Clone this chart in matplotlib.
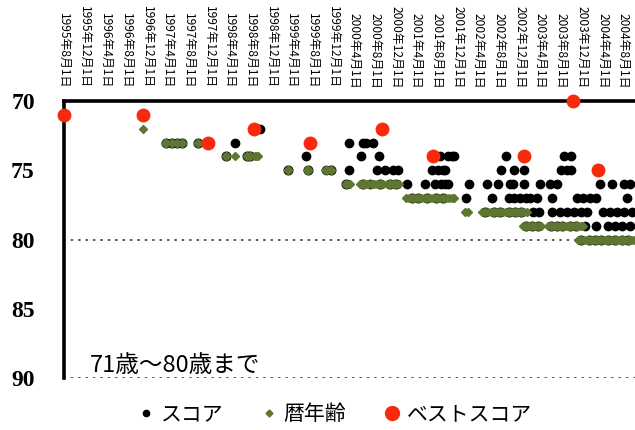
import numpy as np
import pandas as pd

import matplotlib
matplotlib.use("Agg")
import matplotlib.pyplot as plt
from matplotlib.lines import Line2D

plt.rcParams['font.family'] = ['Noto Sans CJK JP', 'DejaVu Sans']

# ベストスコア (red)
best_dates = ["1995-08-01", "1996-11-10", "1997-11-22", "1998-08-21", "1999-07-15",
              "2000-09-09", "2001-07-06", "2002-12-25", "2003-10-07", "2004-03-04"]
best_vals = [71, 71, 73, 72, 73, 72, 74, 74, 70, 75]

# 暦年齢 (green diamonds), one list per age row
age72 = ["1996-11-10"]
age73 = ["1997-03-16", "1997-03-25", "1997-04-24", "1997-05-24", "1997-06-25", "1997-09-28"]
age74 = ["1998-03-07", "1998-05-01", "1998-07-10", "1998-07-28", "1998-08-27", "1998-09-05",
         "1998-09-15"]
age75 = ["1999-03-10", "1999-07-01", "1999-07-06", "1999-10-12", "1999-10-22", "1999-11-16"]
age76 = ["2000-02-15", "2000-03-05", "2000-05-05", "2000-05-20", "2000-06-05", "2000-06-22",
         "2000-07-10", "2000-07-28", "2000-08-15", "2000-09-01", "2000-09-20", "2000-10-10",
         "2000-10-28", "2000-11-15", "2000-12-01", "2000-12-20"]
age77 = ["2001-02-01", "2001-02-18", "2001-03-08", "2001-03-25", "2001-04-12", "2001-04-30",
         "2001-05-18", "2001-06-05", "2001-06-22", "2001-07-10", "2001-07-28", "2001-08-15",
         "2001-09-02", "2001-09-20", "2001-10-08", "2001-10-25", "2001-11-08"]
age78 = ["2002-01-10", "2002-01-30", "2002-04-20", "2002-05-08", "2002-05-25", "2002-06-12",
         "2002-06-30", "2002-07-18", "2002-08-05", "2002-08-22", "2002-09-10", "2002-09-28",
         "2002-10-15", "2002-11-02", "2002-11-20", "2002-12-08", "2002-12-26", "2003-01-12"]
age79 = ["2002-12-20", "2003-01-05", "2003-01-22", "2003-02-08", "2003-02-25", "2003-03-15",
         "2003-04-01", "2003-05-15", "2003-06-01", "2003-06-18", "2003-07-05", "2003-07-22",
         "2003-08-08", "2003-08-25", "2003-09-10", "2003-09-22", "2003-10-08", "2003-10-25",
         "2003-11-10", "2003-11-25", "2003-12-05"]
age80 = ["2003-11-10", "2003-11-25", "2003-12-12", "2003-12-28", "2004-01-10", "2004-01-28",
         "2004-02-15", "2004-03-02", "2004-03-20", "2004-04-05", "2004-04-20", "2004-05-01",
         "2004-05-18", "2004-06-10", "2004-06-25", "2004-07-08", "2004-07-20", "2004-08-06",
         "2004-08-25", "2004-09-10", "2004-09-25", "2004-10-05"]

# スコア (black dots), one list per score row
score70 = ["2003-10-07"]
score71 = ["1995-08-01", "1996-11-10"]
score72 = ["1998-08-21", "1998-09-27", "2000-09-09"]
score73 = ["1997-03-25", "1997-04-24", "1997-05-24", "1997-06-25", "1997-09-28", "1997-11-22",
           "1998-05-01", "1999-07-15", "2000-03-03", "2000-05-24", "2000-06-12", "2000-07-21"]
score74 = ["1998-03-07", "1998-07-10", "1998-07-28", "1999-06-21", "2000-05-10", "2000-08-24",
           "2001-07-06", "2001-08-18", "2001-10-06", "2001-10-25", "2001-11-10", "2002-09-10",
           "2002-12-25", "2003-08-19", "2003-09-28"]
score75 = ["1999-03-10", "1999-07-06", "1999-10-18", "1999-11-16", "2000-03-03", "2000-08-12",
           "2000-10-01", "2000-11-18", "2000-12-13", "2001-07-01", "2001-08-09", "2001-09-07",
           "2001-09-18", "2002-08-12", "2002-10-28", "2002-12-25", "2003-07-28", "2003-09-01",
           "2003-09-28", "2004-03-04"]
score76 = ["2000-02-15", "2000-05-20", "2000-07-01", "2000-09-01", "2000-10-28", "2000-12-01",
           "2001-02-06", "2001-05-21", "2001-07-19", "2001-08-25", "2001-09-18", "2001-10-06",
           "2002-02-06", "2002-05-19", "2002-07-25", "2002-10-04", "2002-10-22", "2002-12-25",
           "2003-03-28", "2003-05-25", "2003-07-04", "2004-03-16", "2004-05-25", "2004-08-01",
           "2004-09-10"]
score77 = ["2001-03-08", "2001-04-12", "2001-06-05", "2001-07-28", "2001-09-02", "2002-01-16",
           "2002-06-18", "2002-09-28", "2002-10-28", "2002-12-01", "2003-01-05", "2003-01-28",
           "2003-03-10", "2003-06-06", "2003-11-01", "2003-12-05", "2004-01-16", "2004-02-22",
           "2004-08-20"]
score78 = ["2002-05-08", "2002-06-30", "2002-08-05", "2002-09-28", "2002-11-02", "2002-12-08",
           "2003-02-13", "2003-03-20", "2003-06-10", "2003-07-24", "2003-09-04", "2003-10-13",
           "2003-11-22", "2003-12-30", "2004-04-04", "2004-05-15", "2004-06-24", "2004-08-05",
           "2004-09-17"]
score79 = ["2003-01-05", "2003-02-08", "2003-03-15", "2003-06-01", "2003-07-05", "2003-08-08",
           "2003-09-22", "2003-10-25", "2003-12-19", "2004-02-19", "2004-05-04", "2004-06-12",
           "2004-07-25", "2004-09-10"]
score80 = ["2003-11-25", "2004-01-10", "2004-02-15", "2004-03-20", "2004-05-01", "2004-06-10",
           "2004-07-20", "2004-08-25"]

age_rows = {72: age72, 73: age73, 74: age74, 75: age75, 76: age76,
            77: age77, 78: age78, 79: age79, 80: age80}
score_rows = {70: score70, 71: score71, 72: score72, 73: score73, 74: score74,
              75: score75, 76: score76, 77: score77, 78: score78, 79: score79, 80: score80}

x_start = "1995-08-01"
x_end = "2004-10-07"
tick_dates = pd.date_range("1995-08-01", "2004-08-01", freq="4MS")

OLIVE = "#5f7533"
RED = "#f72a0c"

fig = plt.figure(figsize=(6.35, 4.30), dpi=100)
ax = fig.add_axes([64 / 635, 1 - 378 / 430, 1 - 64 / 635, 277 / 430])

# scores: black, olive-filled where the score equals the calendar age
for val, dates in score_rows.items():
    d = pd.to_datetime(dates)
    ages = age_rows.get(val, [])
    same = np.array([s in ages for s in dates])
    if (~same).any():
        ax.plot(d[~same], [val] * (~same).sum(), 'o', color='black', ms=6,
                clip_on=False, zorder=3)
    if same.any():
        ax.plot(d[same], [val] * same.sum(), 'o', mfc=OLIVE, mec='#1f2a10', mew=0.9,
                ms=6.4, clip_on=False, zorder=4)

for val, dates in age_rows.items():
    d = pd.to_datetime(dates)
    ax.plot(d, [val] * len(d), 'D', color=OLIVE, ms=4.2, clip_on=False, zorder=4)

ax.plot(pd.to_datetime(best_dates), best_vals, 'o', color=RED, ms=10, mew=0,
        clip_on=False, zorder=5)

# dotted reference lines
for yv in [80, 90]:
    ax.axhline(yv, color='#444444', lw=1.3, linestyle=(0, (0.6, 3.5)),
               dash_capstyle='round', zorder=1)

ax.set_ylim(90, 70)
ax.set_xlim(pd.Timestamp(x_start), pd.Timestamp(x_end))
ax.set_yticks([70, 75, 80, 85, 90])
ax.set_yticklabels(["70", "75", "80", "85", "90"], family='Liberation Serif',
                   fontweight='bold', fontsize=17)
ax.tick_params(axis='y', length=0, pad=21)

ax.xaxis.tick_top()
ax.set_xticks(tick_dates)
ax.set_xticklabels([f"{d.year}年{d.month}月{d.day}日" for d in tick_dates],
                   rotation=270, fontsize=8.6)
ax.tick_params(axis='x', length=0, pad=9)

for side in ["bottom", "right"]:
    ax.spines[side].set_visible(False)
ax.spines["top"].set_linewidth(2.6)
ax.spines["left"].set_linewidth(2.6)

ax.text((90 - 64) / 571, 0.02, "71歳～80歳まで", transform=ax.transAxes,
        fontsize=17, va='baseline', ha='left')

handles = [
    Line2D([], [], marker='o', color='black', ls='none', ms=4.5),
    Line2D([], [], marker='D', color=OLIVE, ls='none', ms=3.5),
    Line2D([], [], marker='o', color=RED, ls='none', ms=10),
]
fig.legend(handles, ["スコア", "暦年齢", "ベストスコア"], loc='center',
           bbox_to_anchor=(0.527, 0.037), ncol=3, frameon=False, fontsize=15,
           handlelength=0.8, handletextpad=0.3, columnspacing=1.8)

plt.savefig("out.png", dpi=100)
plt.close("all")
